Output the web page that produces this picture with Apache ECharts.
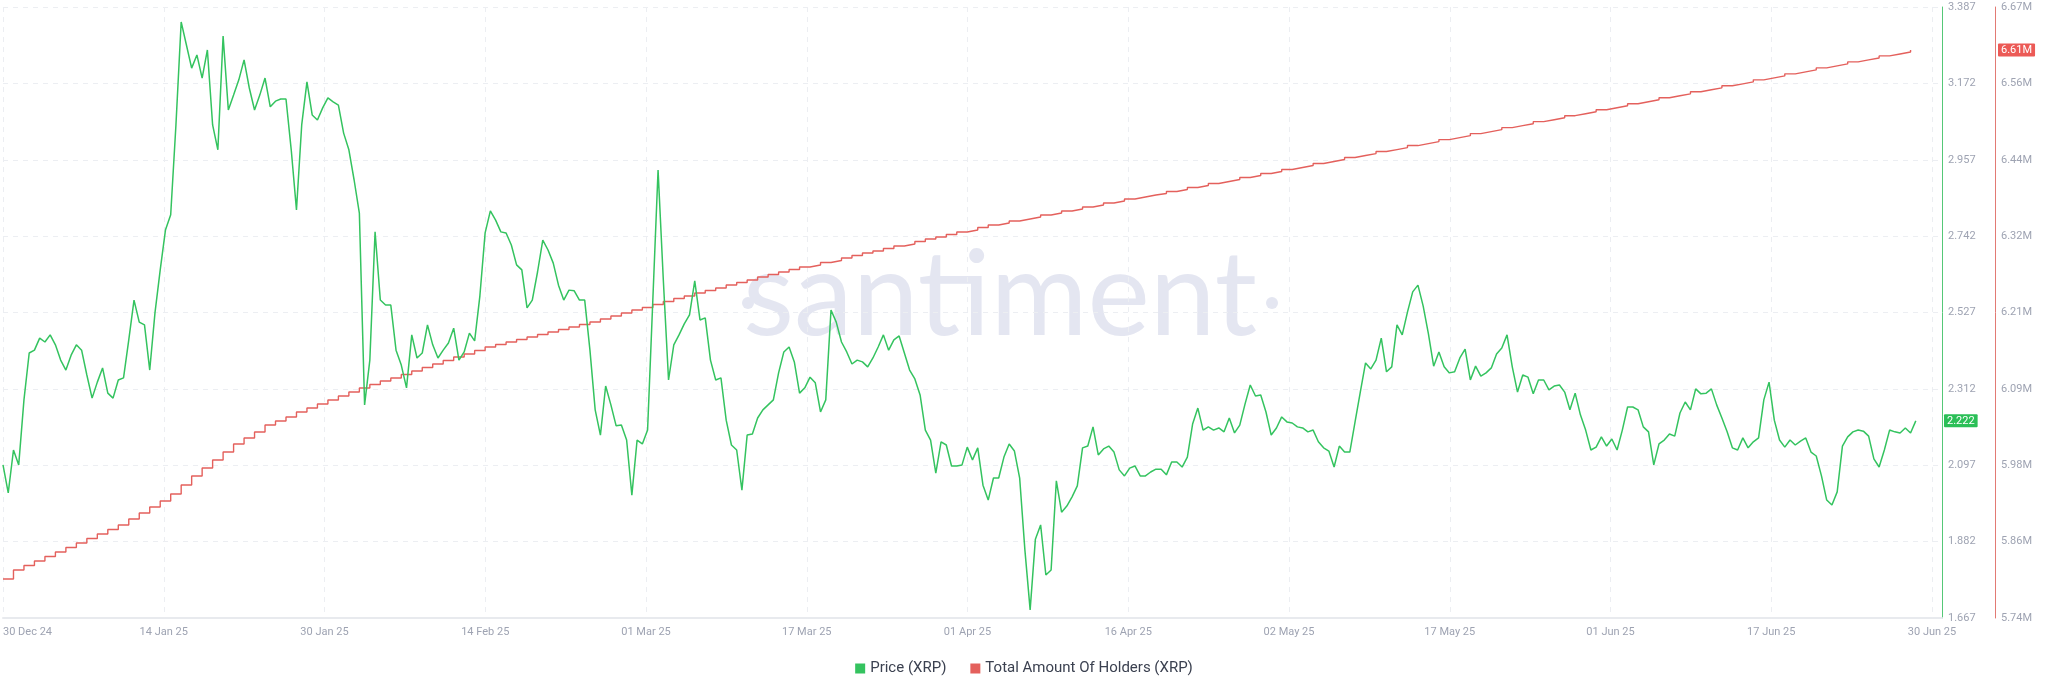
<!DOCTYPE html>
<html>
<head>
<meta charset="utf-8">
<script src="https://cdn.jsdelivr.net/npm/echarts@6/dist/echarts.min.js"></script>
<style>
html,body{margin:0;padding:0;background:#ffffff;}
#chart{width:2048px;height:693px;}
</style>
</head>
<body>
<div id="chart"></div>
<script>
// ---- data ----
const startDate = '2024-12-30T00:00:00Z';
const priceStepHours = 12;     // one price reading every 12 hours
const holdersStepHours = 24;   // one holders reading per day

// Price (XRP), USD, 12-hourly from 30 Dec 2024
const priceValues = [
  2.098, 2.019, 2.140, 2.098, 2.281, 2.413, 2.421, 2.455, 2.444, 2.464,
  2.436, 2.393, 2.365, 2.407, 2.436, 2.421, 2.351, 2.286, 2.331, 2.371,
  2.300, 2.286, 2.337, 2.343, 2.450, 2.562, 2.500, 2.492, 2.365, 2.526,
  2.647, 2.759, 2.802, 3.055, 3.345, 3.280, 3.215, 3.252, 3.187, 3.266,
  3.055, 2.985, 3.305, 3.097, 3.139, 3.182, 3.238, 3.159, 3.097, 3.139,
  3.187, 3.106, 3.122, 3.128, 3.128, 2.985, 2.816, 3.055, 3.176, 3.083,
  3.069, 3.103, 3.131, 3.120, 3.111, 3.032, 2.985, 2.900, 2.807, 2.267,
  2.393, 2.754, 2.562, 2.548, 2.548, 2.421, 2.379, 2.315, 2.464, 2.399,
  2.413, 2.492, 2.436, 2.399, 2.421, 2.441, 2.483, 2.393, 2.416, 2.469,
  2.447, 2.574, 2.751, 2.813, 2.787, 2.754, 2.751, 2.717, 2.661, 2.647,
  2.540, 2.562, 2.641, 2.731, 2.703, 2.666, 2.604, 2.562, 2.590, 2.588,
  2.562, 2.562, 2.421, 2.253, 2.182, 2.320, 2.267, 2.208, 2.210, 2.168,
  2.013, 2.168, 2.157, 2.196, 2.562, 2.928, 2.619, 2.337, 2.436, 2.464,
  2.495, 2.520, 2.616, 2.506, 2.512, 2.393, 2.337, 2.343, 2.224, 2.154,
  2.140, 2.027, 2.182, 2.185, 2.230, 2.253, 2.267, 2.281, 2.357, 2.416,
  2.430, 2.388, 2.300, 2.315, 2.345, 2.329, 2.247, 2.281, 2.534, 2.500,
  2.444, 2.416, 2.382, 2.393, 2.388, 2.374, 2.399, 2.430, 2.464, 2.421,
  2.450, 2.461, 2.413, 2.365, 2.340, 2.295, 2.196, 2.168, 2.075, 2.163,
  2.154, 2.095, 2.095, 2.098, 2.148, 2.112, 2.146, 2.041, 1.999, 2.061,
  2.061, 2.120, 2.157, 2.137, 2.061, 1.858, 1.690, 1.889, 1.929, 1.788,
  1.802, 2.053, 1.965, 1.982, 2.008, 2.039, 2.146, 2.151, 2.205, 2.126,
  2.143, 2.151, 2.134, 2.084, 2.067, 2.089, 2.095, 2.067, 2.067, 2.078,
  2.086, 2.086, 2.070, 2.106, 2.106, 2.092, 2.120, 2.213, 2.258, 2.196,
  2.205, 2.196, 2.202, 2.191, 2.230, 2.188, 2.210, 2.269, 2.323, 2.292,
  2.295, 2.247, 2.182, 2.202, 2.233, 2.219, 2.216, 2.205, 2.202, 2.191,
  2.196, 2.163, 2.146, 2.137, 2.092, 2.151, 2.134, 2.134, 2.219, 2.303,
  2.385, 2.368, 2.393, 2.455, 2.360, 2.374, 2.492, 2.464, 2.528, 2.585,
  2.604, 2.545, 2.467, 2.376, 2.416, 2.374, 2.357, 2.360, 2.399, 2.424,
  2.337, 2.376, 2.348, 2.357, 2.371, 2.410, 2.427, 2.464, 2.374, 2.303,
  2.351, 2.345, 2.298, 2.337, 2.337, 2.309, 2.320, 2.323, 2.303, 2.253,
  2.300, 2.239, 2.196, 2.140, 2.148, 2.177, 2.151, 2.171, 2.140, 2.196,
  2.261, 2.261, 2.253, 2.205, 2.191, 2.098, 2.157, 2.168, 2.185, 2.179,
  2.244, 2.275, 2.253, 2.312, 2.298, 2.300, 2.312, 2.267, 2.230, 2.191,
  2.146, 2.140, 2.174, 2.146, 2.163, 2.174, 2.281, 2.331, 2.224, 2.168,
  2.148, 2.168, 2.154, 2.165, 2.174, 2.134, 2.123, 2.067, 1.999, 1.985,
  2.022, 2.151, 2.177, 2.191, 2.196, 2.193, 2.179, 2.115, 2.092, 2.140,
  2.196, 2.191, 2.188, 2.202, 2.188, 2.222
];

// Total Amount Of Holders (XRP), in thousands, daily from 30 Dec 2024
const holdersThousands = [
  5802.4, 5816.1, 5822.9, 5829.8, 5836.7, 5843.5, 5850.4, 5857.2, 5864.1, 5870.9,
  5877.8, 5884.6, 5893.8, 5902.9, 5912.0, 5921.2, 5931.8, 5945.5, 5959.2, 5971.4,
  5983.6, 5995.8, 6008.0, 6017.1, 6026.2, 6036.9, 6043.0, 6049.1, 6056.7, 6062.8,
  6068.9, 6075.0, 6081.1, 6087.2, 6093.2, 6098.6, 6103.9, 6108.5, 6113.8, 6119.1,
  6124.5, 6129.8, 6135.1, 6140.5, 6145.0, 6150.4, 6155.7, 6159.5, 6163.3, 6167.1,
  6170.9, 6174.7, 6178.5, 6182.3, 6186.1, 6189.9, 6193.7, 6198.3, 6202.9, 6207.5,
  6212.0, 6215.8, 6220.4, 6225.0, 6229.5, 6233.3, 6237.9, 6241.7, 6245.5, 6250.1,
  6253.9, 6257.7, 6262.3, 6266.1, 6269.9, 6273.7, 6277.5, 6280.5, 6284.4, 6287.4,
  6291.2, 6295.0, 6298.8, 6301.9, 6305.7, 6309.5, 6312.5, 6316.3, 6320.1, 6323.2,
  6327.0, 6330.8, 6333.8, 6337.7, 6341.5, 6344.5, 6347.6, 6350.6, 6353.6, 6356.7,
  6359.7, 6362.8, 6365.8, 6368.9, 6371.9, 6375.0, 6378.0, 6381.1, 6384.1, 6387.1,
  6389.4, 6392.5, 6395.5, 6398.6, 6401.6, 6404.7, 6407.7, 6410.7, 6413.8, 6416.8,
  6419.9, 6422.9, 6426.0, 6429.0, 6432.0, 6435.1, 6438.1, 6441.1, 6444.2, 6447.2,
  6450.2, 6453.3, 6456.3, 6459.3, 6462.4, 6465.4, 6468.4, 6471.5, 6474.5, 6477.5,
  6480.6, 6483.6, 6486.6, 6489.7, 6492.7, 6495.7, 6498.8, 6501.8, 6504.8, 6507.9,
  6510.9, 6513.9, 6517.0, 6520.0, 6523.0, 6526.1, 6529.1, 6532.1, 6535.2, 6538.2,
  6541.2, 6544.3, 6547.3, 6550.3, 6553.4, 6556.4, 6559.4, 6562.5, 6565.5, 6568.5,
  6571.6, 6574.6, 6577.6, 6580.7, 6583.7, 6586.7, 6589.8, 6592.8, 6595.8, 6598.9,
  6601.9, 6604.9, 6608.0
];

const xTickLabels = ['30 Dec 24','14 Jan 25','30 Jan 25','14 Feb 25','01 Mar 25','17 Mar 25',
  '01 Apr 25','16 Apr 25','02 May 25','17 May 25','01 Jun 25','17 Jun 25','30 Jun 25'];

const seriesNames = ['Price (XRP)', 'Total Amount Of Holders (XRP)'];

// ---- build ----
// x axis is measured in days since startDate
const HOUR = 3600 * 1000, DAY = 24 * HOUR;
const t0 = new Date(startDate).getTime();
const toDays = t => (t - t0) / DAY;
const xMin = 0, xMax = 185;
const tickStep = (xMax - xMin) * 0.99485 / 12;
const tickDays = xTickLabels.map((_, k) => xMin + k * tickStep);

const priceData = priceValues.map((v, i) => [toDays(t0 + i * priceStepHours * HOUR), v]);
const holdersData = holdersThousands.map((v, i) => [toDays(t0 + i * holdersStepHours * HOUR), Math.round(v * 1000)]);
const lastPrice = priceValues[priceValues.length - 1];
const lastHolders = Math.round(holdersThousands[holdersThousands.length - 1] * 1000);

const GREEN = '#34c35f', RED = '#e4605c';
const labelColor = '#9ea3b2';
const WM = '#e4e6f1';

const chart = echarts.init(document.getElementById('chart'), null, {renderer: 'canvas'});
chart.setOption({
  animation: false,
  backgroundColor: '#ffffff',
  textStyle: {fontFamily: 'Roboto, sans-serif'},
  grid: {left: 0, right: 106, top: 7, bottom: 75},
  legend: {
    top: 656, left: 'center', icon: 'rect', itemWidth: 10, itemHeight: 10, itemGap: 24,
    textStyle: {fontSize: 15, color: '#3b4150', fontFamily: 'Roboto, sans-serif'},
    data: seriesNames
  },
  xAxis: {
    type: 'value', min: xMin, max: xMax,
    axisLine: {show: true, onZero: false, lineStyle: {color: '#e8eaee', width: 2}},
    axisTick: {show: false, customValues: tickDays},
    axisLabel: {
      customValues: tickDays, color: labelColor, fontSize: 11, margin: 9,
      alignMinLabel: 'left', hideOverlap: false,
      formatter: function (val) {
        let best = 0, bd = Infinity;
        tickDays.forEach((t, k) => { const d = Math.abs(t - val); if (d < bd) { bd = d; best = k; } });
        return xTickLabels[best];
      }
    },
    splitLine: {show: true, lineStyle: {color: '#eceef2', type: [5, 5], width: 1}}
  },
  yAxis: [{
    type: 'value', position: 'right', min: 1.667, max: 3.387, interval: 0.215,
    axisLine: {show: true, onZero: false, lineStyle: {color: '#55c877', width: 1}},
    axisTick: {show: false},
    axisLabel: {color: labelColor, fontSize: 11, margin: 6, formatter: v => v.toFixed(3)},
    splitLine: {show: true, lineStyle: {color: '#eceef2', type: [5, 5], width: 1}},
    axisPointer: {
      show: true, value: lastPrice, status: 'show', triggerTooltip: false, snap: false,
      lineStyle: {opacity: 0, width: 0},
      label: {show: true, formatter: p => Number(p.value).toFixed(3), backgroundColor: '#2bbf57',
        color: '#ffffff', fontSize: 11, padding: [1, 3, 1, 3], margin: 2, borderRadius: 1}
    }
  }, {
    type: 'value', position: 'right', offset: 53, min: 5743000, max: 6673400, interval: 116300,
    axisLine: {show: true, onZero: false, lineStyle: {color: '#e27a74', width: 1}},
    axisTick: {show: false},
    axisLabel: {color: labelColor, fontSize: 11, margin: 6, formatter: v => (v / 1e6).toFixed(2) + 'M'},
    splitLine: {show: false},
    axisPointer: {
      show: true, value: lastHolders, status: 'show', triggerTooltip: false, snap: false,
      lineStyle: {opacity: 0, width: 0},
      label: {show: true, formatter: p => (Number(p.value) / 1e6).toFixed(2) + 'M', backgroundColor: '#ec5a56',
        color: '#ffffff', fontSize: 11, padding: [1, 3, 1, 3], margin: 3, borderRadius: 1}
    }
  }],
  graphic: [
    {type: 'text', x: 1000, y: 297, z: 0, silent: true,
      style: {text: 'santiment', fill: WM, fontSize: 118, fontFamily: 'Lato, sans-serif', fontWeight: 'normal',
        align: 'center', verticalAlign: 'middle'}},
    {type: 'circle', shape: {cx: 748, cy: 303, r: 6}, style: {fill: WM}, z: 0, silent: true},
    {type: 'circle', shape: {cx: 1272, cy: 303, r: 6}, style: {fill: WM}, z: 0, silent: true}
  ],
  series: [{
    name: seriesNames[0], type: 'line', yAxisIndex: 0, data: priceData,
    symbol: 'none', showSymbol: false, z: 4,
    itemStyle: {color: GREEN}, lineStyle: {color: GREEN, width: 1.5}
  }, {
    name: seriesNames[1], type: 'line', yAxisIndex: 1, data: holdersData, step: 'end',
    symbol: 'none', showSymbol: false, z: 3,
    itemStyle: {color: RED}, lineStyle: {color: RED, width: 1.4}
  }]
});
</script>
</body>
</html>
